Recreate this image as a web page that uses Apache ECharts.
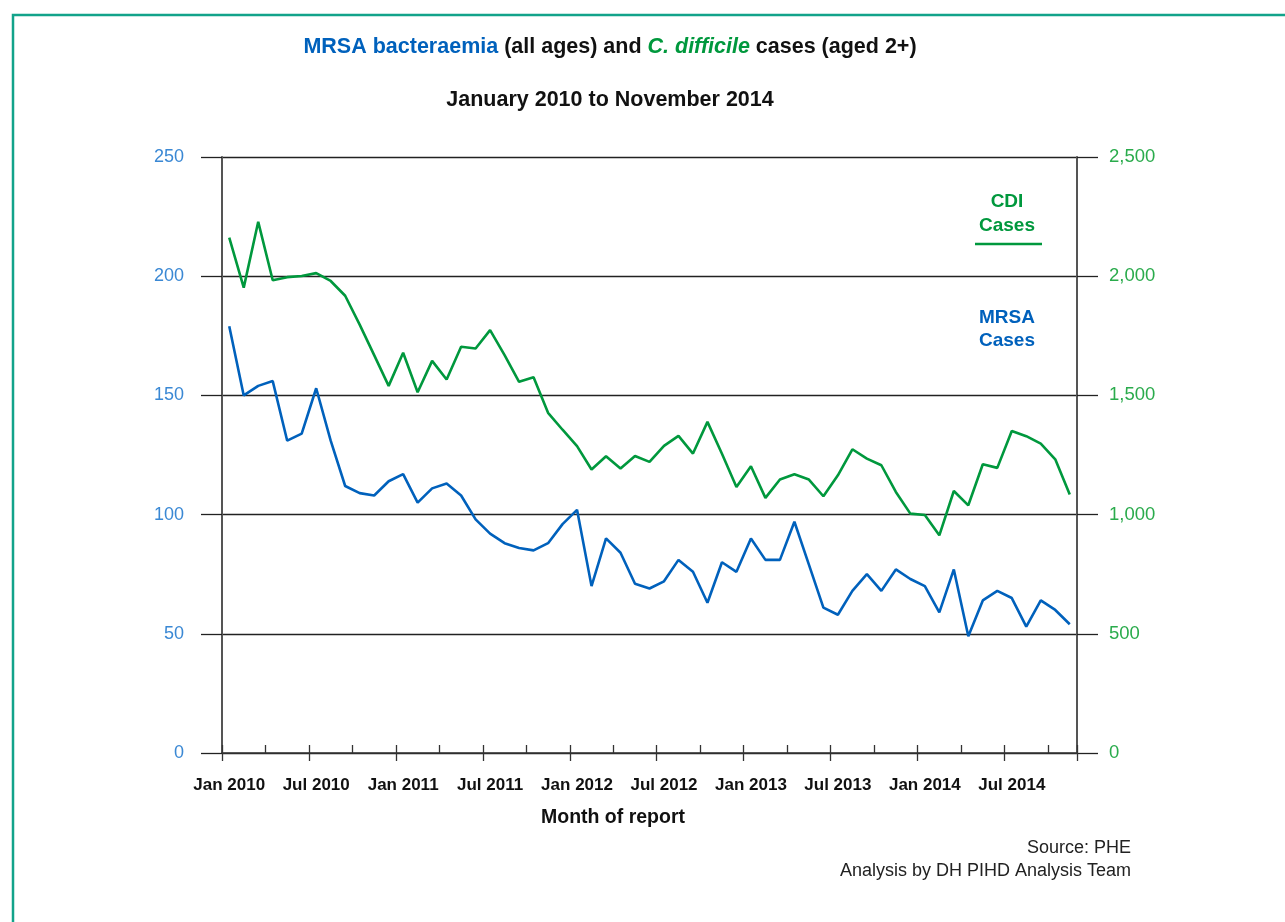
<!DOCTYPE html>
<html>
<head>
<meta charset="utf-8">
<script src="https://cdn.jsdelivr.net/npm/echarts@6/dist/echarts.min.js"></script>
<style>
html,body{margin:0;padding:0;background:#fff;}
#chart{width:1285px;height:922px;}
</style>
</head>
<body>
<div id="chart"></div>
<script>
const months = [
 "Jan 2010","Feb 2010","Mar 2010","Apr 2010","May 2010","Jun 2010","Jul 2010","Aug 2010","Sep 2010","Oct 2010","Nov 2010","Dec 2010",
 "Jan 2011","Feb 2011","Mar 2011","Apr 2011","May 2011","Jun 2011","Jul 2011","Aug 2011","Sep 2011","Oct 2011","Nov 2011","Dec 2011",
 "Jan 2012","Feb 2012","Mar 2012","Apr 2012","May 2012","Jun 2012","Jul 2012","Aug 2012","Sep 2012","Oct 2012","Nov 2012","Dec 2012",
 "Jan 2013","Feb 2013","Mar 2013","Apr 2013","May 2013","Jun 2013","Jul 2013","Aug 2013","Sep 2013","Oct 2013","Nov 2013","Dec 2013",
 "Jan 2014","Feb 2014","Mar 2014","Apr 2014","May 2014","Jun 2014","Jul 2014","Aug 2014","Sep 2014","Oct 2014","Nov 2014"
];
const mrsaCases = [
 179,150,154,156,131,134,153,131,112,109,108,114,
 117,105,111,113,108,98,92,88,86,85,88,96,
 102,70,90,84,71,69,72,81,76,63,80,76,
 90,81,81,97,79,61,58,68,75,68,77,73,
 70,59,77,49,64,68,65,53,64,60,54
];
const cdiCases = [
 2162,1952,2228,1983,1996,2001,2013,1980,1918,1797,1669,1540,
 1679,1513,1645,1567,1704,1697,1774,1669,1557,1576,1427,1356,
 1287,1189,1245,1193,1246,1221,1288,1330,1256,1389,1255,1116,
 1203,1070,1147,1169,1147,1077,1165,1274,1235,1207,1095,1004,
 998,913,1099,1039,1211,1196,1351,1329,1298,1232,1084
];
const leftTicks = {min:0, max:250, interval:50};
const rightTicks = {min:0, max:2500, interval:500};

const BLUE = '#0061bc';
const GREEN = '#00983d';
const FONT = '"Liberation Sans", Arial, Helvetica, sans-serif';

const chart = echarts.init(document.getElementById('chart'));
chart.setOption({
  animation:false,
  backgroundColor:'#fff',
  textStyle:{fontFamily:FONT},
  grid:{left:222, right:208, top:157, bottom:169, containLabel:false},
  xAxis:[{
    type:'category', data:months, boundaryGap:true, position:'bottom',
    axisLine:{show:true, lineStyle:{color:'#333', width:1.5}},
    axisTick:{show:true, inside:true, length:8, interval:function(i){return i%3===0;}, lineStyle:{color:'#333', width:1.3}},
    axisLabel:{show:false},
    splitLine:{show:false}
  },{
    type:'category', data:months, boundaryGap:true, position:'bottom',
    axisLine:{show:false},
    axisTick:{show:true, inside:false, length:8, interval:function(i){return i%6===0;}, lineStyle:{color:'#333', width:1.3}},
    axisLabel:{show:true, interval:function(i){return i%6===0;}, color:'#111', fontWeight:'bold', fontSize:17, margin:24, fontFamily:FONT},
    splitLine:{show:false}
  }],
  yAxis:[{
    type:'value', position:'left', min:leftTicks.min, max:leftTicks.max, interval:leftTicks.interval,
    axisLine:{show:true, lineStyle:{color:'#555', width:2}},
    axisTick:{show:true, length:21, lineStyle:{color:'#222', width:1.3}},
    axisLabel:{color:'#3a88d4', fontSize:18, margin:38, fontFamily:FONT},
    splitLine:{show:true, lineStyle:{color:'#222', width:1.3}}
  },{
    type:'value', position:'right', min:rightTicks.min, max:rightTicks.max, interval:rightTicks.interval,
    axisLine:{show:true, lineStyle:{color:'#555', width:2}},
    axisTick:{show:true, length:21, lineStyle:{color:'#222', width:1.3}},
    axisLabel:{color:'#2aab4c', fontSize:18.5, margin:32, fontFamily:FONT,
      formatter:function(v){return v.toLocaleString('en-US');}},
    splitLine:{show:false}
  }],
  series:[{
    name:'MRSA Cases', type:'line', xAxisIndex:0, yAxisIndex:0, data:mrsaCases,
    showSymbol:false, symbol:'none', lineStyle:{color:BLUE, width:2.6}, itemStyle:{color:BLUE}, z:3
  },{
    name:'CDI Cases', type:'line', xAxisIndex:0, yAxisIndex:1, data:cdiCases,
    showSymbol:false, symbol:'none', lineStyle:{color:GREEN, width:2.6}, itemStyle:{color:GREEN}, z:3
  }],
  graphic:[
    {type:'polyline', shape:{points:[[13,930],[13,15],[1300,15]]}, style:{stroke:'#12a38a', lineWidth:2.5, fill:null}, silent:true},
    {type:'text', x:610, y:47, style:{
      text:'{b|MRSA bacteraemia} {k|(all ages) and} {g|C. difficile} {k|cases (aged 2+)}',
      textAlign:'center', textVerticalAlign:'middle', font:'bold 21.5px '+FONT,
      rich:{
        b:{fill:BLUE, fontWeight:'bold', fontSize:21.5, fontFamily:FONT},
        k:{fill:'#111', fontWeight:'bold', fontSize:21.5, fontFamily:FONT},
        g:{fill:GREEN, fontWeight:'bold', fontStyle:'italic', fontSize:21.5, fontFamily:FONT}
      }}},
    {type:'text', x:610, y:100, style:{text:'January 2010 to November 2014', textAlign:'center', textVerticalAlign:'middle',
      fill:'#111', font:'bold 21.5px '+FONT}},
    {type:'text', x:1007, y:214, style:{text:'CDI\nCases', textAlign:'center', textVerticalAlign:'middle',
      fill:GREEN, font:'bold 19px '+FONT, lineHeight:24}},
    {type:'line', shape:{x1:975, y1:244, x2:1042, y2:244}, style:{stroke:GREEN, lineWidth:2.6}},
    {type:'text', x:1007, y:329, style:{text:'MRSA\nCases', textAlign:'center', textVerticalAlign:'middle',
      fill:BLUE, font:'bold 19px '+FONT, lineHeight:23}},
    {type:'text', x:613, y:818, style:{text:'Month of report', textAlign:'center', textVerticalAlign:'middle',
      fill:'#111', font:'bold 19.5px '+FONT}},
    {type:'text', x:1131, y:848, style:{text:'Source: PHE', textAlign:'right', textVerticalAlign:'middle',
      fill:'#222', font:'18px '+FONT}},
    {type:'text', x:1131, y:871, style:{text:'Analysis by DH PIHD Analysis Team', textAlign:'right', textVerticalAlign:'middle',
      fill:'#222', font:'18px '+FONT}}
  ]
});
</script>
</body>
</html>
